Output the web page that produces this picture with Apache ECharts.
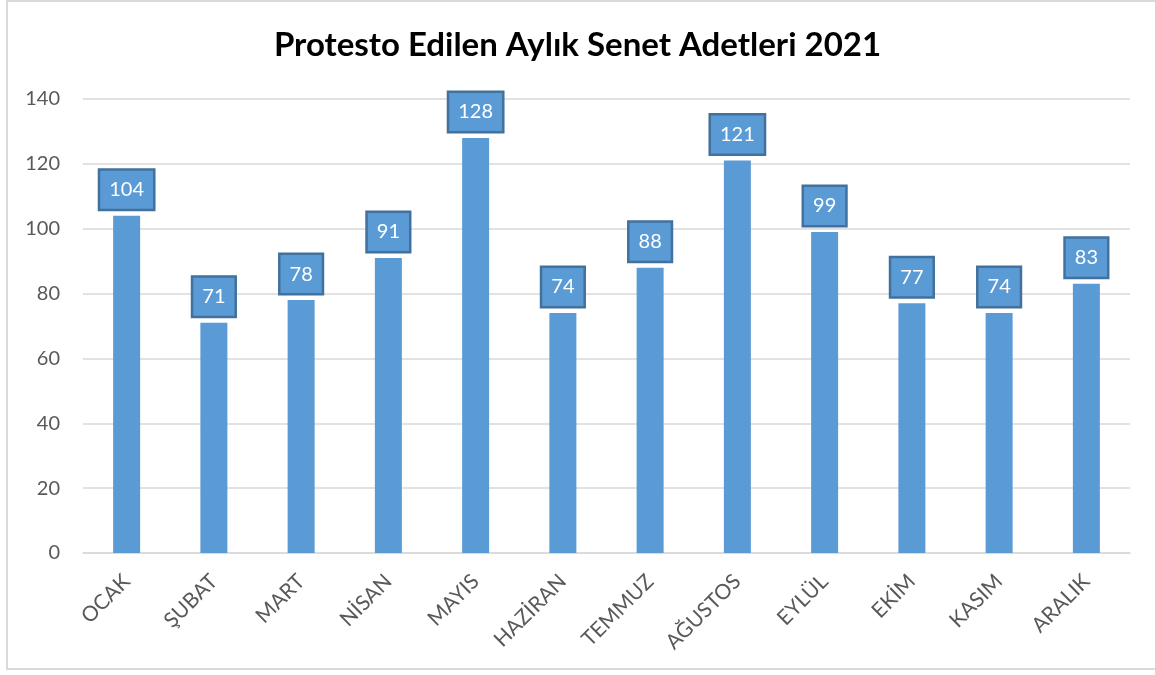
<!DOCTYPE html>
<html>
<head>
<meta charset="utf-8">
<script src="https://cdn.jsdelivr.net/npm/echarts@6/dist/echarts.min.js"></script>
<style>
  html, body { margin: 0; padding: 0; background: #fff; }
  #frame {
    position: absolute; left: 6px; top: 0; width: 1160px; height: 670px;
    border: 2px solid #d9d9d9; box-sizing: border-box;
  }
  #mycharts { position: absolute; left: 0; top: 0; width: 1155px; height: 675px; }
</style>
</head>
<body>
<div id="frame"></div>
<div id="mycharts"></div>
<script>
// aylar ve senet adetleri
const months = ['OCAK', 'ŞUBAT', 'MART', 'NİSAN', 'MAYIS', 'HAZİRAN', 'TEMMUZ', 'AĞUSTOS', 'EYLÜL', 'EKİM', 'KASIM', 'ARALIK'];
const counts = [104, 71, 78, 91, 128, 74, 88, 121, 99, 77, 74, 83];
const yTicks = [0, 20, 40, 60, 80, 100, 120, 140];

const font = 'Lato, "Open Sans", sans-serif';

let myChart = echarts.init(document.getElementById('mycharts'));
let option = {
  animation: false,
  title: {
    text: 'Protesto Edilen Aylık Senet Adetleri 2021',
    left: 'center',
    top: 24,
    textStyle: { fontFamily: font, fontWeight: 'bold', fontSize: 33, color: '#000' }
  },
  grid: { left: 83, right: 25, top: 99, bottom: 122 },
  xAxis: {
    type: 'category',
    data: months,
    axisLine: { lineStyle: { color: '#d9d9d9', width: 1.5 } },
    axisTick: { show: false },
    axisLabel: {
      rotate: 45,
      interval: 0,
      margin: 25,
      color: '#595959',
      fontFamily: font,
      fontSize: 21
    }
  },
  yAxis: {
    type: 'value',
    min: yTicks[0],
    max: yTicks[yTicks.length - 1],
    interval: 20,
    axisLine: { show: false },
    axisTick: { show: false },
    splitLine: { lineStyle: { color: '#d9d9d9', width: 1.5 } },
    axisLabel: { margin: 23, color: '#595959', fontFamily: font, fontSize: 20 }
  },
  series: [{
    type: 'bar',
    data: counts,
    barWidth: 27,
    itemStyle: { color: '#5b9bd5' },
    label: {
      show: true,
      position: 'top',
      distance: 7,
      color: '#fff',
      fontFamily: font,
      fontSize: 20,
      lineHeight: 20,
      backgroundColor: '#5b9bd5',
      borderColor: '#41719c',
      borderWidth: 2.5,
      padding: [9, 9, 9, 9]
    }
  }]
};
myChart.setOption(option);
</script>
</body>
</html>
